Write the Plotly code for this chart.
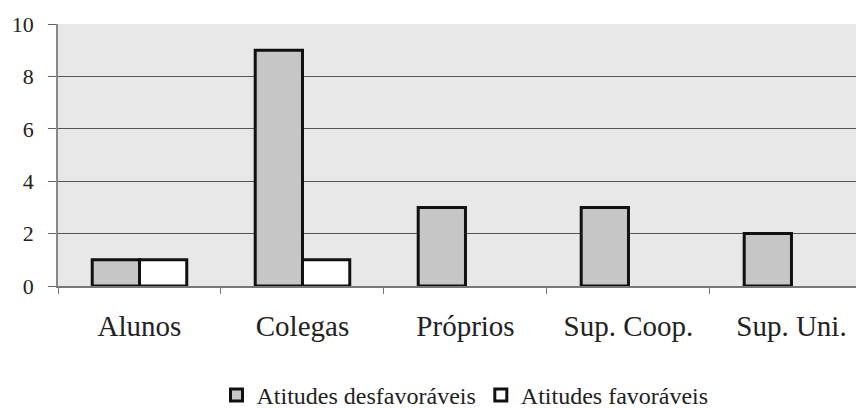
import plotly.graph_objects as go

categories = ["Alunos", "Colegas", "Próprios", "Sup. Coop.", "Sup. Uni."]
desfavoraveis = [1, 9, 3, 3, 2]
favoraveis = [1, 1, None, None, None]
y_ticks = [0, 2, 4, 6, 8, 10]

FONT = "Liberation Serif"

fig = go.Figure()
fig.add_trace(go.Bar(
    x=categories, y=desfavoraveis, name="Atitudes desfavoráveis",
    marker=dict(color="#c6c6c6", line=dict(color="#111111", width=3)),
))
fig.add_trace(go.Bar(
    x=categories, y=favoraveis, name="Atitudes favoráveis",
    marker=dict(color="#ffffff", line=dict(color="#111111", width=3)),
))

fig.update_layout(
    width=856, height=401,
    margin=dict(l=50, r=0, t=16, b=123, autoexpand=False),
    paper_bgcolor="white",
    plot_bgcolor="#e8e8e8",
    barmode="group", bargap=0.42, bargroupgap=0,
    font=dict(family=FONT, color="#222222"),
    showlegend=True,
    legend=dict(
        orientation="h", x=0.505, xanchor="center", y=-0.418, yanchor="middle",
        font=dict(size=24, family=FONT), itemwidth=30, bgcolor="rgba(0,0,0,0)",
        tracegroupgap=0,
    ),
    xaxis=dict(
        type="category", range=[-0.5, 4.445], automargin=False,
        tickson="boundaries", ticks="outside", ticklen=6, tickcolor="#777777",
        showline=True, linecolor="#777777", linewidth=1.5,
        tickfont=dict(size=29, family=FONT, color="#222222"),
        ticklabelstandoff=13, showgrid=False,
    ),
    yaxis=dict(
        range=[0, 10], tickvals=y_ticks, ticks="outside", ticklen=8,
        automargin=False,
        tickcolor="#666666", showline=True, linecolor="#888888", linewidth=1.5,
        gridcolor="#555555", gridwidth=1, ticklabelstandoff=10,
        tickfont=dict(size=22, family=FONT, color="#222222"),
        zeroline=False,
    ),
)

fig.write_html("out.html")
